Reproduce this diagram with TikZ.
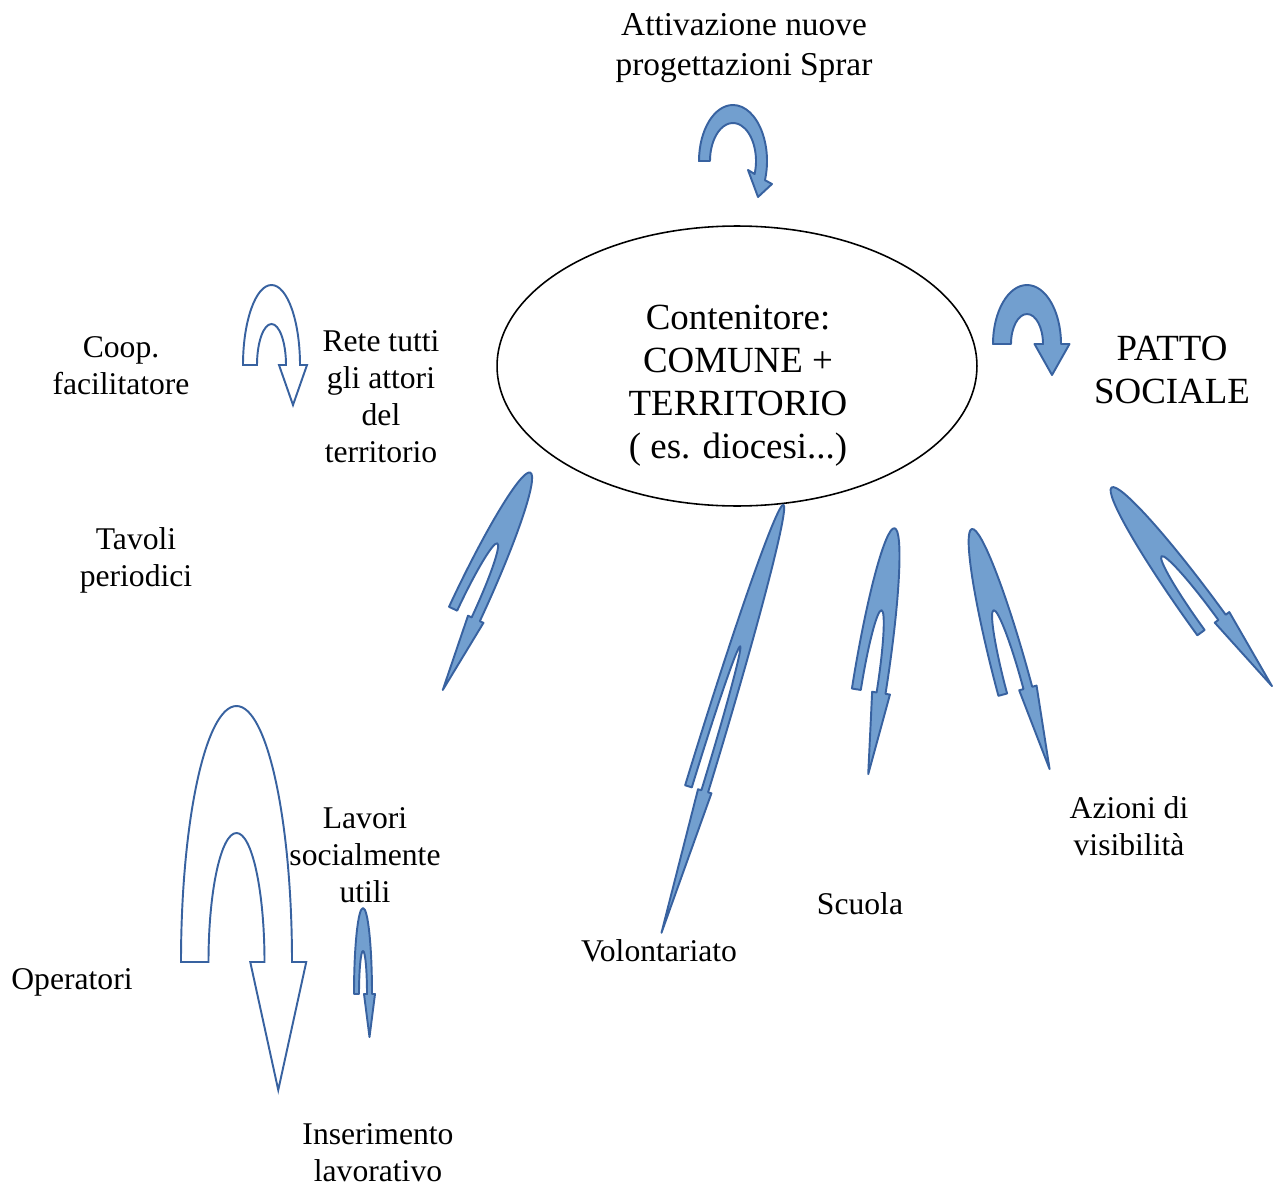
\documentclass[tikz,border=0pt]{standalone}
\usepackage{fontspec}
\setmainfont{Liberation Serif}
\usepackage{tikz}
\usetikzlibrary{shapes.geometric}
\definecolor{arrowfill}{RGB}{114,159,207}
\definecolor{arrowframe}{RGB}{56,98,160}
% u-turn arrow: style, outer half width, height, leg, inner height, head half width, head length
\newcommand{\uturn}[7]{%
  \pgfmathsetmacro{\uinx}{#2-#4}%
  \pgfmathsetmacro{\uleg}{#2-#4/2}%
  \draw[#1] (-#2,0) arc[start angle=180, end angle=360, x radius=#2, y radius=#3]
    -- ({\uleg+#6},0) -- (\uleg,#7) -- ({\uleg-#6},0) -- (\uinx,0)
    arc[start angle=0, end angle=-180, x radius=\uinx, y radius=#5] -- cycle;}

\begin{document}
\begin{tikzpicture}[
  x=0.02cm, y=-0.02cm,
  uturnfull/.style={draw=arrowframe, fill=arrowfill, line width=1.1pt, line join=round},
  uturnhollow/.style={draw=arrowframe, fill=white, line width=1.1pt},
  lbl/.style={align=center, inner sep=0pt, font=\fontsize{18}{21}\selectfont},
  toplbl/.style={align=center, inner sep=0pt, font=\fontsize{19}{23}\selectfont},
  biglbl/.style={align=center, inner sep=0pt, font=\fontsize{21}{24.5}\selectfont}
]
\useasboundingbox (0,0) rectangle (1274,1186);

% centre
\node[draw, ellipse, line width=0.9pt, minimum width=9.6cm, minimum height=5.6cm] (comune) at (737,366) {};
\node[biglbl] (comunetext) at (738,386) {Contenitore:\\COMUNE +\\TERRITORIO\\( es. diocesi...)};

% labels
\node[toplbl] (sprar) at (744,48) {Attivazione nuove\\progettazioni Sprar};
\node[biglbl] (patto) at (1172,370) {PATTO\\SOCIALE};
\node[lbl] (coop) at (121,366) {Coop.\\facilitatore};
\node[lbl] (rete) at (381,397) {Rete tutti\\gli attori\\del\\territorio};
\node[lbl] (tavoli) at (136,560) {Tavoli\\periodici};
\node[lbl] (lavori) at (365,855) {Lavori\\socialmente\\utili};
\node[lbl] (operatori) at (72,982) {Operatori};
\node[lbl] (inserimento) at (378,1153) {Inserimento\\lavorativo};
\node[lbl] (volontariato) at (659,951) {Volontariato};
\node[lbl] (scuola) at (860,904) {Scuola};
\node[lbl] (azioni) at (1129,826) {Azioni di\\visibilità};

% arrows
\draw[uturnfull] (699,161) arc[start angle=180, end angle=380, x radius=34, y radius=56]
  -- (772,184) -- (758,197) -- (748,170) -- (754.6,174)
  arc[start angle=380, end angle=180, x radius=23, y radius=38] -- cycle;
\uturn{uturnfull, shift={(1027,344)}}{34}{59}{18}{30}{17.5}{31}
\uturn{uturnhollow, shift={(271.5,365)}}{28.5}{80}{14}{41}{14}{40}
\uturn{uturnhollow, shift={(236.5,962)}}{55.5}{256}{27.5}{129}{28}{128}
\uturn{uturnfull, shift={(363,994)}}{9}{86}{5}{43}{5.5}{43}
\uturn{uturnfull, shift={(464.4,614)}, rotate=-25}{17}{156}{9}{78}{8.5}{78}
\uturn{uturnfull, shift={(696.6,788.8)}, rotate=-17}{12}{297}{7}{149}{7}{148}
\uturn{uturnfull, shift={(868.7,691.2)}, rotate=-9}{17}{165}{9}{82}{9}{82}
\uturn{uturnfull, shift={(1015.3,691.3)}, rotate=15}{17.5}{168}{9}{84}{9}{84}
\uturn{uturnfull, shift={(1211.5,625)}, rotate=36}{17.5}{170}{9}{85}{9}{85}
\end{tikzpicture}
\end{document}
